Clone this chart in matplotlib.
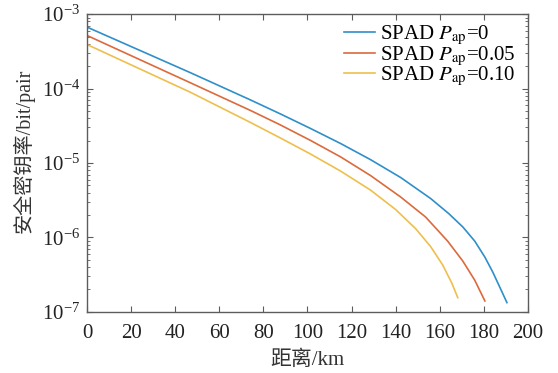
import matplotlib
matplotlib.use("Agg")
import matplotlib.pyplot as plt
from matplotlib.ticker import LogLocator, NullFormatter

# distance (km) and secure key rate (bit/pair)
dist_p0 = [0, 46.8, 74.1, 87.7, 101.4, 115.0, 128.6, 142.3, 155.9, 164.1,
           170.5, 175.9, 180.5, 184.1, 187.7, 190.5]
rate_p0 = [6.70e-4, 1.64e-4, 7.05e-5, 4.57e-5, 2.91e-5, 1.83e-5, 1.11e-5, 6.38e-6,
           3.33e-6, 2.09e-6, 1.38e-6, 8.92e-7, 5.43e-7, 3.41e-7, 2.01e-7, 1.33e-7]

dist_p005 = [0, 46.8, 74.1, 87.7, 101.4, 115.0, 128.6, 142.3, 153.6, 163.6,
             170.5, 175.9, 180.5]
rate_p005 = [5.17e-4, 1.20e-4, 5.09e-5, 3.25e-5, 2.01e-5, 1.21e-5, 6.79e-6, 3.49e-6,
             1.88e-6, 8.92e-7, 4.80e-7, 2.66e-7, 1.40e-7]

dist_p010 = [0, 46.8, 74.1, 87.7, 101.4, 115.0, 128.6, 140.0, 149.1, 155.9,
             161.4, 165.5, 168.2]
rate_p010 = [3.91e-4, 8.95e-5, 3.51e-5, 2.17e-5, 1.32e-5, 7.80e-6, 4.33e-6, 2.37e-6,
             1.31e-6, 7.52e-7, 4.24e-7, 2.43e-7, 1.55e-7]

labels = [r'SPAD $P_{\rm ap}$=0', r'SPAD $P_{\rm ap}$=0.05', r'SPAD $P_{\rm ap}$=0.10']
colors = ['#2f8fca', '#dc6a3c', '#eebf4c']

plt.rcParams['font.family'] = ['Liberation Serif', 'Noto Sans CJK SC']
plt.rcParams['mathtext.fontset'] = 'stix'

fig = plt.figure(figsize=(5.58, 3.73), dpi=100)
ax = fig.add_axes([0.156, 0.164, 0.79, 0.798])

for x, y, lab, c in zip([dist_p0, dist_p005, dist_p010],
                        [rate_p0, rate_p005, rate_p010], labels, colors):
    ax.plot(x, y, color=c, lw=1.2, label=lab)

ax.set_yscale('log')
ax.set_xlim(0, 200)
ax.set_ylim(1e-7, 1e-3)
ax.set_xticks(range(0, 201, 20))
ax.yaxis.set_minor_locator(LogLocator(base=10, subs=range(2, 10)))
ax.yaxis.set_minor_formatter(NullFormatter())

axis_gray = '#5c5c5c'
for s in ax.spines.values():
    s.set_color(axis_gray)
    s.set_linewidth(1.0)
ax.tick_params(which='both', direction='in', top=True, right=True,
               color=axis_gray, labelsize=15, labelcolor='#222222')
ax.tick_params(which='major', length=4.5)
ax.tick_params(which='minor', length=2.5)
ax.tick_params(axis='x', pad=9)
ax.tick_params(axis='y', pad=5)

ax.set_xlabel('距离/km', fontsize=15, color='#333333', labelpad=5)
ax.set_ylabel('安全密钥率/bit/pair', fontsize=14.5, color='#333333')
ax.yaxis.set_label_coords(-0.118, 0.54)

ax.legend(loc='upper right', bbox_to_anchor=(1.0, 1.01), frameon=False,
          fontsize=15, handlelength=1.45, handletextpad=0.25, labelspacing=-0.12,
          borderaxespad=0.2)

fig.savefig('out.png', dpi=100)
